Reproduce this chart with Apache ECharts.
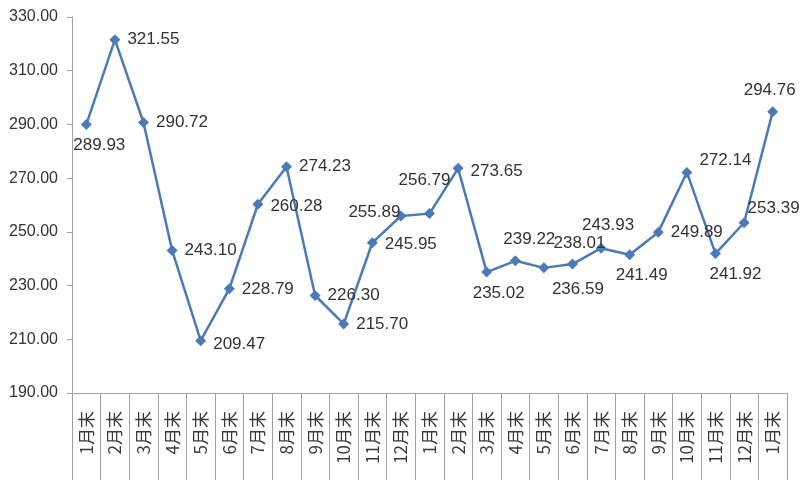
<!DOCTYPE html>
<html><head><meta charset="utf-8">
<script src="https://cdn.jsdelivr.net/npm/echarts@6/dist/echarts.min.js"></script>
<style>html,body{margin:0;padding:0;background:#fff}#c{width:800px;height:500px}</style>
</head><body><div id="c"></div>
<script>
const categories = ['1月末','2月末','3月末','4月末','5月末','6月末','7月末','8月末','9月末','10月末','11月末','12月末',
  '1月末','2月末','3月末','4月末','5月末','6月末','7月末','8月末','9月末','10月末','11月末','12月末','1月末'];
const values = [289.93,321.55,290.72,243.10,209.47,228.79,260.28,274.23,226.30,215.70,245.95,255.89,
  256.79,273.65,235.02,239.22,236.59,238.01,243.93,241.49,249.89,272.14,241.92,253.39,294.76];
const yTicks = {min:190, max:330, interval:20};
// label placement per point: [position, dx, dy]
const labelPlace = [
  ['bottom',13,0],['right',0,0],['right',0,0],['right',0,0],['right',0,4],['right',0,0],['right',0,2],['right',0,0],
  ['right',0,0],['right',0,0],['right',0,2],['left',12,-4],['top',-5,-12],['right',0,3],['bottom',12,0],['top',14,0],
  ['bottom',34,0],['top',7,0],['top',7,-2],['bottom',12,0],['right',0,0],['right',0,-12],['bottom',20,0],['right',-9,-14],['top',-3,0]
];
const data = values.map((v,i)=>({value:v,label:{position:labelPlace[i][0],offset:[labelPlace[i][1],labelPlace[i][2]]}}));
const chart = echarts.init(document.getElementById('c'));
chart.setOption({
  animation:false,
  grid:{left:72,right:13,top:17,bottom:107},
  xAxis:{type:'category',data:categories,boundaryGap:true,
    axisLine:{lineStyle:{color:'#a0a0a0',width:1}},
    axisTick:{show:true,length:87,lineStyle:{color:'#a0a0a0'}},
    axisLabel:{rotate:90,margin:18,fontSize:17,color:'#3a3a3a',fontFamily:'Noto Sans CJK SC',interval:0}},
  yAxis:{type:'value',min:yTicks.min,max:yTicks.max,interval:yTicks.interval,
    axisLine:{show:true,lineStyle:{color:'#a0a0a0'}},
    axisTick:{show:true,length:5,lineStyle:{color:'#a0a0a0'}},
    splitLine:{show:false},
    axisLabel:{formatter:v=>v.toFixed(2),fontSize:16,color:'#333',margin:14,fontFamily:'Liberation Sans'}},
  series:[{type:'line',data:data,symbol:'diamond',symbolSize:11,
    lineStyle:{color:'#4a7bb7',width:2.5},itemStyle:{color:'#4a7bb7'},
    label:{show:true,formatter:p=>p.value.toFixed(2),fontSize:17,color:'#333',fontFamily:'Liberation Sans',distance:7}}]
});
</script></body></html>
